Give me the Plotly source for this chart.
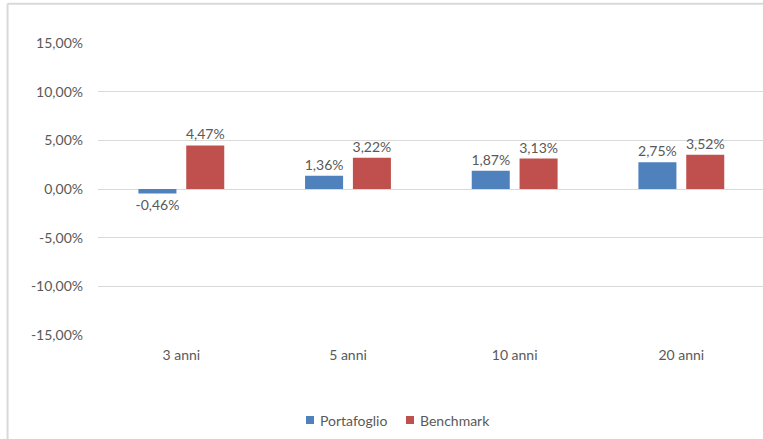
import plotly.graph_objects as go

periods = ["3 anni", "5 anni", "10 anni", "20 anni"]
portafoglio = [-0.0046, 0.0136, 0.0187, 0.0275]
benchmark = [0.0447, 0.0322, 0.0313, 0.0352]
y_ticks = [-0.15, -0.10, -0.05, 0.0, 0.05, 0.10, 0.15]

BLUE = "#4f81bd"
RED = "#c0504d"
TEXT = "#595959"
GRID = "#d9d9d9"
FONT = "Lato, 'Open Sans', sans-serif"

W, H = 763, 439


def pct(v):
    # italian style: comma decimal, plain hyphen for minus
    return f"{v * 100:.2f}%".replace(".", ",")


series = [("Portafoglio", portafoglio, BLUE), ("Benchmark", benchmark, RED)]

fig = go.Figure()
for name, vals, color in series:
    fig.add_trace(go.Bar(
        x=periods, y=vals, name=name,
        marker=dict(color=color, line=dict(width=0)),
        text=[pct(v) for v in vals], textposition="outside",
        textfont=dict(color=TEXT, size=14, family=FONT),
        constraintext="none", cliponaxis=False, showlegend=False,
        hovertemplate="%{x}: %{text}<extra>" + name + "</extra>",
    ))

# chart area border (top and left, the rest is cropped)
fig.add_shape(type="line", xref="paper", yref="paper", x0=-0.136, x1=1.0, y0=1.1345, y1=1.1345,
              line=dict(color=GRID, width=2))
fig.add_shape(type="line", xref="paper", yref="paper", x0=-0.136, x1=-0.136, y0=1.1345, y1=-0.36,
              line=dict(color=GRID, width=2))

# legend drawn by hand, excel-like small squares
legend_x = [306, 406]  # left edge of each square, px
for (name, _, color), lx in zip(series, legend_x):
    fig.add_shape(type="rect", xref="paper", yref="paper",
                  x0=(lx - 98) / 665, x1=(lx + 8 - 98) / 665,
                  y0=(H - 104 - 424) / 292, y1=(H - 104 - 416) / 292,
                  fillcolor=color, line=dict(width=0))
    fig.add_annotation(xref="paper", yref="paper", x=(lx + 12 - 98) / 665, y=(H - 104 - 420) / 292,
                       text=name, showarrow=False, xanchor="left", yanchor="middle",
                       font=dict(size=14, color=TEXT, family=FONT))

fig.update_layout(
    width=W, height=H,
    margin=dict(l=98, r=0, t=43, b=104, autoexpand=False),
    paper_bgcolor="white", plot_bgcolor="white",
    barmode="group", bargap=0.426, bargroupgap=0.205,
    font=dict(family=FONT, color=TEXT, size=14),
    showlegend=False,
)
fig.update_xaxes(range=[-0.5, 3.49], showgrid=False, showline=False, ticks="",
                 ticklabelstandoff=10, tickfont=dict(size=14, color=TEXT))
fig.update_yaxes(range=[-0.15, 0.15], tickvals=y_ticks, ticktext=[pct(v) for v in y_ticks],
                 showgrid=True, gridcolor=GRID, gridwidth=1,
                 zeroline=True, zerolinecolor=GRID, zerolinewidth=1,
                 showline=False, ticks="", ticklen=0, ticklabelstandoff=14,
                 tickfont=dict(size=14, color=TEXT))

fig.write_html("out.html", config=dict(displayModeBar=False),
               post_script="document.body.style.margin='0';"
                           "document.body.style.overflow='hidden';"
                           "document.documentElement.style.overflow='hidden';")
